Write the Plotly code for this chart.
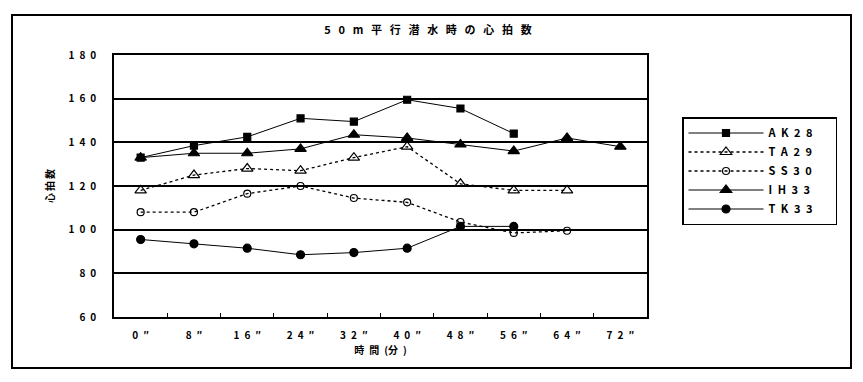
import plotly.graph_objects as go

categories = ["0″", "8″", "16″", "24″", "32″", "40″", "48″", "56″", "64″", "72″"]
AK28 = [133, 138.5, 142.5, 151, 149.5, 159.5, 155.5, 144, None, None]
TA29 = [118, 125, 128, 127, 133, 138, 121, 118, 118, None]
SS30 = [108, 108, 116.5, 120, 114.5, 112.5, 103.5, 98.5, 99.5, None]
IH33 = [133, 135, 135, 137, 143.5, 142, 139, 136, 142, 138]
TK33 = [95.5, 93.5, 91.5, 88.5, 89.5, 91.5, 101.5, 101.5, None, None]
y_ticks = [60, 80, 100, 120, 140, 160, 180]

SP = "\u2009"
def spaced(s, sep=SP):
    return sep.join(list(s))

FONT = "Noto Sans CJK JP"
tick_text_x = ["\u2002".join(list(c)) for c in categories]

# page has an 8px body margin; figure coordinates are page coordinates minus 8
OFF = 8
W, H = 855, 374
L, R, T, B = 114 - OFF, 647 - OFF, 55 - OFF, 317 - OFF
PW, PH = R - L, B - T

fig = go.Figure()
series = [
    ("AK28", AK28, "solid", "square", 7, 1),
    ("TA29", TA29, "3px,3px", "triangle-up-open", 10, 1.3),
    ("SS30", SS30, "3px,3px", "circle-open", 7, 1.3),
    ("IH33", IH33, "solid", "triangle-up", 10, 1),
    ("TK33", TK33, "solid", "circle", 8, 1),
]
for name, vals, dash, sym, ms, lw in series:
    fig.add_trace(go.Scatter(
        x=categories, y=vals, name=spaced(name, "\u2002") + "\u2002\u2002\u2002", mode="lines+markers",
        line=dict(color="black", width=lw, dash=dash),
        marker=dict(symbol=sym, size=ms, color="black", line=dict(color="black", width=1.2)),
        connectgaps=False, legendgroup=name,
    ))

fig.update_layout(
    width=W, height=H,
    margin=dict(l=L, r=W - R, t=T, b=H - B),
    paper_bgcolor="white", plot_bgcolor="white",
    font=dict(family=FONT, size=10, color="black", weight="bold"),
    title=dict(text="\u2002\u2009".join(list("50m平行潜水時の心拍数")),
               x=(428 - OFF - L) / PW, xref="paper", xanchor="center",
               y=1 - (30 - OFF) / H, yanchor="middle", font=dict(size=11, family=FONT, weight="bold")),
    showlegend=True,
    legend=dict(x=(682 - OFF - L) / PW, y=(B - (117 - OFF)) / PH, xanchor="left", yanchor="top",
                bordercolor="black", borderwidth=1.5, bgcolor="white",
                font=dict(size=11, family=FONT, weight="bold"),
                tracegroupgap=8, itemwidth=75, traceorder="normal"),
)
fig.update_xaxes(
    type="category", categoryarray=categories, range=[-0.5, 9.5],
    tickvals=categories, ticktext=tick_text_x,
    showline=True, linecolor="black", linewidth=1.5, mirror=True,
    ticks="inside", tickson="boundaries", ticklen=4, tickcolor="black",
    showgrid=False, ticklabelstandoff=8,
    title=dict(text="時\u2002間\u2002(分\u2002)", standoff=4, font=dict(size=10, family=FONT, weight="bold")),
)
fig.update_yaxes(
    range=[60, 180], tickvals=y_ticks, ticktext=[spaced(str(v), "\u2002") for v in y_ticks],
    showline=True, linecolor="black", linewidth=1.5, mirror=True,
    showgrid=True, gridcolor="black", gridwidth=1.5, ticks="", zeroline=False,
    ticklabelstandoff=14,
    title=dict(text="心\u2009拍\u2009数", standoff=12, font=dict(size=10, family=FONT, weight="bold")),
)
# outer chart frame
fig.add_shape(type="rect", xref="paper", yref="paper",
              x0=(12 - OFF - L) / PW, x1=(851 - OFF - L) / PW,
              y0=(B - (368 - OFF)) / PH, y1=(B - (15 - OFF)) / PH,
              line=dict(color="black", width=2), fillcolor="rgba(0,0,0,0)", layer="below")
fig.write_html("out.html")
